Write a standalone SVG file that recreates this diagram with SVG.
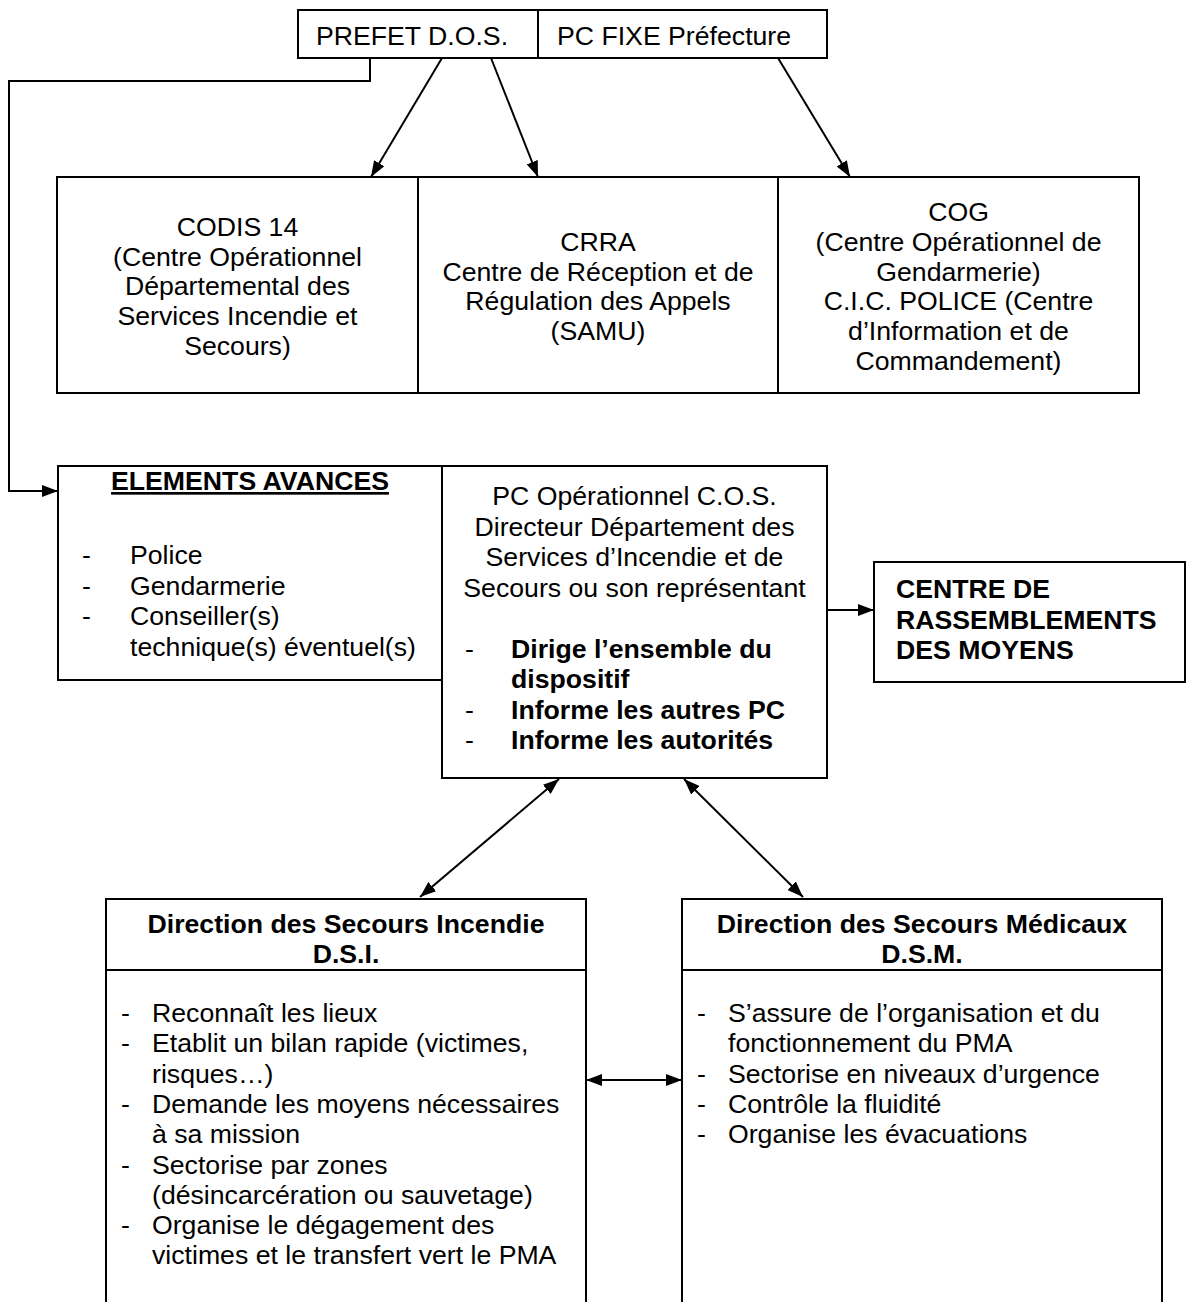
<svg xmlns="http://www.w3.org/2000/svg" width="1186" height="1302" viewBox="0 0 1186 1302">
<style>
text{font-family:"Liberation Sans",Arial,sans-serif;font-size:26.67px;fill:#000}
.b{font-weight:bold}
.c{text-anchor:middle}
.box{fill:#fff;stroke:#000;stroke-width:2}
.ln{fill:none;stroke:#000;stroke-width:2}
</style>
<defs>
<marker id="ah" viewBox="0 0 16 12" refX="16" refY="6" markerWidth="16" markerHeight="12" markerUnits="userSpaceOnUse" orient="auto-start-reverse"><path d="M0,0 L16,6 L0,12 z" fill="#000"/></marker>
</defs>
<rect width="1186" height="1302" fill="#fff"/>
<g id="prefet"><rect class="box" x="298" y="10" width="240" height="48"/><text x="316" y="45">PREFET D.O.S.</text></g>
<g id="pcfixe"><rect class="box" x="538" y="10" width="289" height="48"/><text x="557" y="45">PC FIXE Préfecture</text></g>
<g id="codis"><rect class="box" x="57" y="177" width="361" height="216"/>
<text class="c" x="237.5" y="236">CODIS 14</text><text class="c" x="237.5" y="265.7">(Centre Opérationnel</text><text class="c" x="237.5" y="295.4">Départemental des</text><text class="c" x="237.5" y="325.1">Services Incendie et</text><text class="c" x="237.5" y="354.8">Secours)</text></g>
<g id="crra"><rect class="box" x="418" y="177" width="360" height="216"/>
<text class="c" x="598" y="250.8">CRRA</text><text class="c" x="598" y="280.5">Centre de Réception et de</text><text class="c" x="598" y="310.2">Régulation des Appels</text><text class="c" x="598" y="339.9">(SAMU)</text></g>
<g id="cog"><rect class="box" x="778" y="177" width="361" height="216"/>
<text class="c" x="958.5" y="221.2">COG</text><text class="c" x="958.5" y="250.9">(Centre Opérationnel de</text><text class="c" x="958.5" y="280.6">Gendarmerie)</text><text class="c" x="958.5" y="310.3">C.I.C. POLICE (Centre</text><text class="c" x="958.5" y="340">d’Information et de</text><text class="c" x="958.5" y="369.7">Commandement)</text></g>
<g id="elements"><rect class="box" x="58" y="466" width="384" height="214"/>
<text class="b c" x="250" y="490" text-decoration="underline">ELEMENTS AVANCES</text>
<text x="82" y="564">-</text><text x="130" y="564">Police</text>
<text x="82" y="594.5">-</text><text x="130" y="594.5">Gendarmerie</text>
<text x="82" y="625">-</text><text x="130" y="625">Conseiller(s)</text>
<text x="130" y="655.5">technique(s) éventuel(s)</text></g>
<g id="pcop"><rect class="box" x="442" y="466" width="385" height="312"/>
<text class="c" x="634.5" y="505">PC Opérationnel C.O.S.</text><text class="c" x="634.5" y="535.5">Directeur Département des</text><text class="c" x="634.5" y="566">Services d’Incendie et de</text><text class="c" x="634.5" y="596.5">Secours ou son représentant</text>
<text x="465" y="657.5">-</text><text class="b" x="511" y="657.5">Dirige l’ensemble du</text>
<text class="b" x="511" y="688">dispositif</text>
<text x="465" y="718.5">-</text><text class="b" x="511" y="718.5">Informe les autres PC</text>
<text x="465" y="749">-</text><text class="b" x="511" y="749">Informe les autorités</text></g>
<g id="centre"><rect class="box" x="874" y="562" width="311" height="120"/>
<text class="b" x="896" y="598">CENTRE DE</text><text class="b" x="896" y="628.5">RASSEMBLEMENTS</text><text class="b" x="896" y="659">DES MOYENS</text></g>
<g id="dsi"><path class="ln" d="M106,1303 V899 H586 V1303 M106,970 H586"/>
<text class="b c" x="346" y="933">Direction des Secours Incendie</text><text class="b c" x="346" y="963">D.S.I.</text>
<text x="121" y="1022">-</text><text x="152" y="1022">Reconnaît les lieux</text>
<text x="121" y="1052.3">-</text><text x="152" y="1052.3">Etablit un bilan rapide (victimes,</text>
<text x="152" y="1082.6">risques…)</text>
<text x="121" y="1112.9">-</text><text x="152" y="1112.9">Demande les moyens nécessaires</text>
<text x="152" y="1143.2">à sa mission</text>
<text x="121" y="1173.5">-</text><text x="152" y="1173.5">Sectorise par zones</text>
<text x="152" y="1203.8">(désincarcération ou sauvetage)</text>
<text x="121" y="1234.1">-</text><text x="152" y="1234.1">Organise le dégagement des</text>
<text x="152" y="1264.4">victimes et le transfert vert le PMA</text></g>
<g id="dsm"><path class="ln" d="M682,1303 V899 H1162 V1303 M682,970 H1162"/>
<text class="b c" x="922" y="933">Direction des Secours Médicaux</text><text class="b c" x="922" y="963">D.S.M.</text>
<text x="697" y="1022">-</text><text x="728" y="1022">S’assure de l’organisation et du</text>
<text x="728" y="1052.3">fonctionnement du PMA</text>
<text x="697" y="1082.6">-</text><text x="728" y="1082.6">Sectorise en niveaux d’urgence</text>
<text x="697" y="1112.9">-</text><text x="728" y="1112.9">Contrôle la fluidité</text>
<text x="697" y="1143.2">-</text><text x="728" y="1143.2">Organise les évacuations</text></g>
<g id="connectors">
<path class="ln" d="M370,58 V81 H9 V491 H58" marker-end="url(#ah)"/>
<path class="ln" d="M442,58 L371,177" marker-end="url(#ah)"/>
<path class="ln" d="M491,58 L538,177" marker-end="url(#ah)"/>
<path class="ln" d="M778,58 L850,177" marker-end="url(#ah)"/>
<path class="ln" d="M827,610 H874" marker-end="url(#ah)"/>
<path class="ln" d="M559,779 L420,897" marker-start="url(#ah)" marker-end="url(#ah)"/>
<path class="ln" d="M684,779 L803,897" marker-start="url(#ah)" marker-end="url(#ah)"/>
<path class="ln" d="M586,1080 H682" marker-start="url(#ah)" marker-end="url(#ah)"/>
</g>
</svg>
